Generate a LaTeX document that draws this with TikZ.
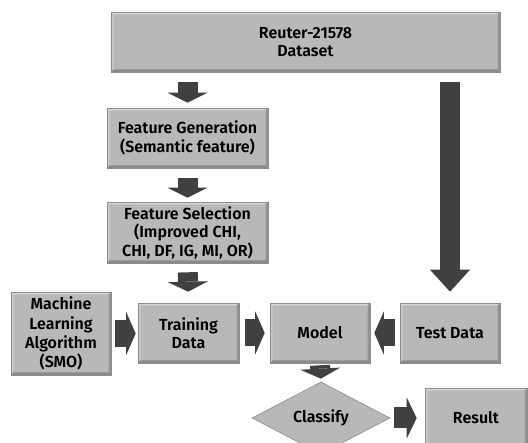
\documentclass[tikz,border=0pt]{standalone}
\usepackage{fontspec}
\setmainfont{Fira Sans}
\newfontfamily\lblface{Fira Sans SemiBold}
\usetikzlibrary{arrows.meta,shapes.geometric,calc}

\definecolor{boxfill}{HTML}{B8B8B8}
\definecolor{boxedge}{HTML}{8C8C8C}
\definecolor{arrowfill}{HTML}{404040}

\tikzset{
  bevel/.style={path picture={
      \fill[white,opacity=.45] (path picture bounding box.north west) -- (path picture bounding box.north east)
        -- ([shift={(-2.5pt,-2.5pt)}]path picture bounding box.north east) -- ([shift={(2.5pt,-2.5pt)}]path picture bounding box.north west) -- cycle;
      \fill[white,opacity=.25] (path picture bounding box.north west) -- (path picture bounding box.south west)
        -- ([shift={(2.5pt,2.5pt)}]path picture bounding box.south west) -- ([shift={(2.5pt,-2.5pt)}]path picture bounding box.north west) -- cycle;
      \fill[black,opacity=.25] (path picture bounding box.south west) -- (path picture bounding box.south east)
        -- ([shift={(-2.5pt,2.5pt)}]path picture bounding box.south east) -- ([shift={(2.5pt,2.5pt)}]path picture bounding box.south west) -- cycle;
      \fill[black,opacity=.2] (path picture bounding box.north east) -- (path picture bounding box.south east)
        -- ([shift={(-2.5pt,2.5pt)}]path picture bounding box.south east) -- ([shift={(-2.5pt,-2.5pt)}]path picture bounding box.north east) -- cycle;
  }},
  labelfont/.style={font=\lblface\fontsize{16}{18.5}\selectfont},
  box/.style={draw=boxedge, line width=0.6pt, fill=boxfill, bevel, inner sep=0pt, align=center, labelfont},
  decide/.style={diamond, draw=boxedge, line width=0.6pt, fill=boxfill, inner sep=0pt, align=center,
    minimum width=138pt, minimum height=56pt, labelfont},
  vflow/.style={draw=arrowfill, line width=20pt,
    -{Triangle[width=40pt,length=10pt,line width=0pt]}},
  hflow/.style={draw=arrowfill, line width=27pt,
    -{Triangle[width=43pt,length=9.5pt,line width=0pt]}},
}

\begin{document}
\begin{tikzpicture}[x=1pt,y=-1pt]
  \useasboundingbox (0,0) rectangle (528,443);
  \clip (0,0) rectangle (528,443);

  % process boxes
  \node[box, minimum width=389pt, minimum height=60pt] (ds) at (305.5,42) {Reuter-21578\\Dataset};
  \node[box, minimum width=161pt, minimum height=60pt] (fg) at (187.5,138) {Feature Generation\\(Semantic feature)};
  \node[box, minimum width=161pt, minimum height=61pt] (fs) at (187.5,232.5) {Feature Selection\\(Improved CHI,\\CHI, DF, IG, MI, OR)};
  \node[box, minimum width=100pt, minimum height=83pt, font=\lblface\fontsize{16}{19.3}\selectfont] (ml) at (61,333.5) {Machine\\Learning\\Algorithm\\(SMO)};
  \node[box, minimum width=101pt, minimum height=60pt] (td) at (188.5,333) {Training\\Data};
  \node[box, minimum width=100pt, minimum height=60pt] (mo) at (320,333) {Model};
  \node[box, minimum width=100pt, minimum height=60pt] (te) at (450,333) {Test Data};
  \node[decide] (cl) at (321,418) {Classify};
  \node[box, minimum width=102pt, minimum height=60pt] (re) at (476,418) {Result};

  % block arrows between the stages
  \draw[vflow, shorten <=10pt, shorten >=5pt] (ds.south -| fg.north) -- (fg.north);
  \draw[vflow, shorten <=10pt, shorten >=11pt, -{Triangle[width=40pt,length=22pt,line width=0pt]}] (ds.south -| te.north) -- (te.north);
  \draw[vflow, shorten <=10pt, shorten >=4pt] (fg.south) -- (fs.north);
  \draw[vflow, shorten <=9pt, shorten >=11pt] (fs.south) -- (td.north);
  \draw[hflow, shorten <=4pt, shorten >=2pt] (ml.east) -- (ml.east -| td.west);
  \draw[hflow, shorten <=6pt, shorten >=5pt] (td.east) -- (mo.west);
  \draw[hflow, shorten <=5pt, shorten >=4pt] (te.west) -- (mo.east);
  \draw[vflow, shorten <=2pt, shorten >=3pt] (mo.south) -- (cl.north);
  \draw[vflow, line width=21pt, shorten <=4pt, shorten >=8pt, -{Triangle[width=41pt,length=10pt,line width=0pt]}] (cl.east) -- (re.west);
\end{tikzpicture}
\end{document}
